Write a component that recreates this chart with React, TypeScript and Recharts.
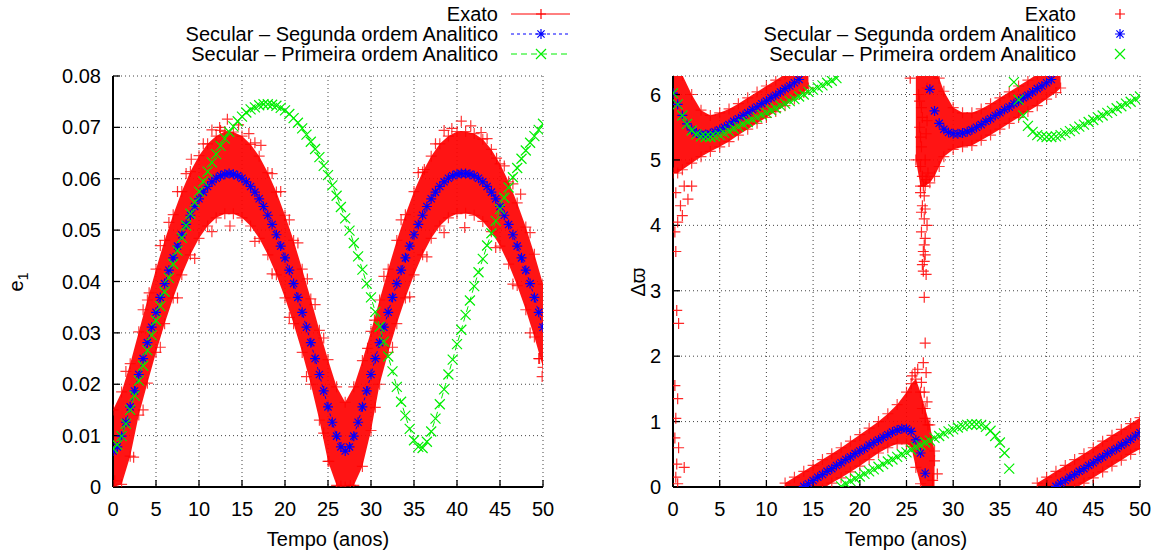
import React from 'react';
import { ComposedChart, XAxis, YAxis, CartesianGrid, Line, Area, Scatter } from 'recharts';

const FONT = '"Liberation Sans", Arial, Helvetica, sans-serif';

// ---------- shared categories / ticks ----------
const X_TICKS = [0, 5, 10, 15, 20, 25, 30, 35, 40, 45, 50];
const LEFT_Y_TICKS = [0, 0.01, 0.02, 0.03, 0.04, 0.05, 0.06, 0.07, 0.08];
const RIGHT_Y_TICKS = [0, 1, 2, 3, 4, 5, 6];

const T_HALF = [0,0.5,1,1.5,2,2.5,3,3.5,4,4.5,5,5.5,6,6.5,7,7.5,8,8.5,9,9.5,10,10.5,11,11.5,12,12.5,13,13.5,14,14.5,15,15.5,16,16.5,17,17.5,18,18.5,19,19.5,20,20.5,21,21.5,22,22.5,23,23.5,24,24.5,25,25.5,26,26.5,27,27.5,28,28.5,29,29.5,30,30.5,31,31.5,32,32.5,33,33.5,34,34.5,35,35.5,36,36.5,37,37.5,38,38.5,39,39.5,40,40.5,41,41.5,42,42.5,43,43.5,44,44.5,45,45.5,46,46.5,47,47.5,48,48.5,49,49.5,50];
const T_INT = [0,1,2,3,4,5,6,7,8,9,10,11,12,13,14,15,16,17,18,19,20,21,22,23,24,25,26,27,28,29,30,31,32,33,34,35,36,37,38,39,40,41,42,43,44,45,46,47,48,49,50];

// ---------- left panel: e1 ----------
const LEFT_SEGUNDA = [
  .0070,.0078,.0099,.0126,.0156,.0187,.0219,.0250,.0281,.0311,.0340,.0369,.0396,.0422,.0446,.0469,.0491,.0511,.0529,.0546,.0561,.0574,.0585,.0594,.0601,.0606,.0609,.0610,
  .0609,.0606,.0601,.0594,.0585,.0574,.0561,.0546,.0529,.0511,.0491,.0469,.0446,.0422,.0396,.0369,.0340,.0311,.0281,.0250,.0219,.0187,.0156,.0126,.0099,.0078,.0070,
  .0078,.0099,.0126,.0156,.0187,.0219,.0250,.0281,.0311,.0340,.0369,.0396,.0422,.0446,.0469,.0491,.0511,.0529,.0546,.0561,.0574,.0585,.0594,.0601,.0606,.0609,.0610,
  .0610,.0609,.0606,.0601,.0594,.0585,.0574,.0561,.0546,.0529,.0511,.0491,.0469,.0446,.0422,.0396,.0369,.0340,.0311
];
const LEFT_PRIMEIRA = [
  .0075,.0082,.0099,.0123,.0150,.0178,.0207,.0236,.0266,.0295,
  .0324,.0352,.0380,.0407,.0434,.0460,.0485,.0509,.0532,.0554,
  .0575,.0595,.0614,.0632,.0648,.0664,.0678,.0691,.0702,.0712,
  .0721,.0729,.0735,.0739,.0743,.0745,.0745,.0744,.0742,.0738,
  .0733,.0726,.0718,.0709,.0698,.0686,.0672,.0658,.0642,.0625,
  .0607,.0587,.0567,.0545,.0523,.0499,.0475,.0449,.0423,.0396,
  .0369,.0341,.0312,.0283,.0254,.0225,.0195,.0166,.0139,.0113,
  .0091,.0078,.0076,.0088,.0108,.0133,.0161,.0190,.0219,.0248,
  .0278,.0306,.0335,.0363,.0391,.0418,.0444,.0470,.0494,.0518,
  .0541,.0563,.0583,.0603,.0621,.0639,.0655,.0670,.0683,.0695,
  .0707
];
const LEFT_EXATO_HI = [
  .0150,.0185,.0240,.0302,.0364,.0424,.0480,.0530,.0575,.0614,
  .0645,.0668,.0683,.0692,.0691,.0683,.0667,.0644,.0612,.0574,
  .0529,.0480,.0424,.0366,.0305,.0248,.0195,.0165,.0195,.0246,
  .0303,.0364,.0424,.0480,.0530,.0575,.0613,.0644,.0668,.0683,
  .0692,.0692,.0688,.0677,.0657,.0629,.0594,.0553,.0506,.0453,.0395
];
const LEFT_EXATO_LO = [
  .0000,.0005,.0060,.0140,.0202,.0262,.0318,.0368,.0413,.0452,
  .0484,.0508,.0524,.0532,.0532,.0524,.0508,.0484,.0452,.0413,
  .0368,.0318,.0262,.0200,.0130,.0050,.0003,.0000,.0003,.0040,
  .0110,.0200,.0262,.0318,.0368,.0413,.0452,.0484,.0508,.0524,
  .0532,.0533,.0529,.0517,.0497,.0469,.0434,.0392,.0345,.0292,.0233
];
const LEFT_EXATO_OUT_T = [13.3,14.6,12.4,40.5,41.6,39.4,13.6,40.9,26.5,27.6,0.2,49.9,49.6,2.4,25.1,29.6,30.4,36.2,9.1,17.2,4.2,22.6,44.6,47.4,11.5,15.8,38.5,42.8,
  1.5,3.5,5.5,6.5,7.5,8.5,10.5,12.5,16.5,18.5,19.5,20.5,21.5,23.5,24.5,31.5,33.5,35.5,37.5,43.5,45.5,46.5,48.5,
  3.5,5.5,7.5,9.5,11.5,16.5,18.5,20.5,22.5,24.5,30.5,32.5,34.5,36.5,38.5,44.5,46.5,48.5,49.5];
const LEFT_EXATO_OUT_V = [.0716,.0705,.0700,.0712,.0703,.0698,.0508,.0505,.0002,.0003,.0012,.0215,.0250,.0058,.0050,.0270,.0325,.0618,.0638,.0665,.0378,.0405,.0640,.0570,.0695,.0688,.0694,.0690,
  .0225,.0345,.0470,.0515,.0575,.0610,.0668,.0694,.0670,.0610,.0575,.0520,.0475,.0355,.0290,.0410,.0520,.0612,.0668,.0678,.0625,.0590,.0495,
  .0150,.0272,.0368,.0445,.0497,.0478,.0415,.0330,.0215,.0105,.0155,.0272,.0370,.0448,.0495,.0466,.0395,.0300,.0250];

// ---------- right panel: delta varpi ----------
const RIGHT_SEGUNDA = [
  6.02,5.85,5.68,5.55,5.46,5.41,5.39,5.39,5.40,5.43,
  5.46,5.50,5.54,5.59,5.63,5.68,5.72,5.77,5.81,5.86,
  5.90,5.95,5.99,6.04,6.09,6.13,6.18,6.23,0.01,0.05,
  0.10,0.15,0.19,0.24,0.28,0.33,0.37,0.42,0.46,0.51,
  0.55,0.59,0.64,0.68,0.72,0.76,0.80,0.84,0.87,0.89,
  0.89,0.85,0.72,0.52,0.21,6.08,5.75,5.56,5.47,5.42,
  5.40,5.40,5.41,5.43,5.46,5.50,5.54,5.59,5.63,5.68,
  5.72,5.77,5.81,5.86,5.90,5.95,5.99,6.04,6.09,6.13,
  6.18,6.23,0.01,0.06,0.10,0.15,0.19,0.24,0.28,0.33,
  0.37,0.42,0.46,0.51,0.55,0.59,0.64,0.68,0.73,0.78,
  0.83
];
const RIGHT_PRIMEIRA = [
  6.02,5.85,5.68,5.55,5.45,5.39,5.36,5.35,5.35,5.36,
  5.38,5.41,5.44,5.48,5.51,5.55,5.58,5.62,5.65,5.69,
  5.72,5.76,5.79,5.83,5.86,5.90,5.93,5.97,6.00,6.04,
  6.07,6.11,6.14,6.18,6.21,6.25,0.01,0.05,0.09,0.13,
  0.16,0.20,0.24,0.27,0.31,0.35,0.39,0.42,0.46,0.50,
  0.53,0.57,0.61,0.64,0.68,0.71,0.75,0.78,0.82,0.85,
  0.88,0.91,0.93,0.95,0.96,0.96,0.95,0.92,0.86,0.78,
  0.68,0.52,0.28,6.19,5.92,5.68,5.52,5.43,5.38,5.36,
  5.35,5.35,5.36,5.38,5.41,5.44,5.47,5.51,5.54,5.58,
  5.61,5.65,5.68,5.72,5.75,5.79,5.82,5.86,5.89,5.93,
  5.97
];
// Exato band, four wrapped pieces
const SEG_A_T = [0,0.5,1,2,3,4,5,6,7,8,9,10,11,12,13,14,14.5];
const SEG_A_HI = [6.45,6.40,6.30,6.00,5.76,5.68,5.72,5.78,5.86,5.95,6.04,6.13,6.22,6.31,6.40,6.50,6.55];
const SEG_A_LO = [4.80,4.80,4.85,4.95,5.05,5.13,5.20,5.28,5.38,5.47,5.56,5.65,5.74,5.83,5.93,6.03,6.10];
const SEG_B_T = [12,13,14,15,16,17,18,19,20,21,22,23,24,25,25.5,26,26.5,27,27.5,28];
const SEG_B_HI = [0.06,0.15,0.24,0.33,0.42,0.51,0.60,0.70,0.80,0.90,1.00,1.12,1.26,1.45,1.58,1.65,1.45,1.20,0.95,0.55];
const SEG_B_LO = [-0.4,-0.3,-0.2,-0.12,-0.03,0.06,0.14,0.23,0.32,0.42,0.52,0.60,0.66,0.66,0.62,0.30,0.05,-0.1,-0.1,-0.1];
const SEG_C_T = [26,26.5,27,27.5,28,28.5,29,30,31,32,33,34,35,36,37,38,39,40,41,41.5];
const SEG_C_HI = [6.6,6.6,6.6,6.55,6.45,6.25,6.05,5.80,5.72,5.72,5.78,5.86,5.95,6.04,6.13,6.22,6.31,6.40,6.50,6.55];
const SEG_C_LO = [5.0,4.6,4.6,4.65,4.75,4.9,5.05,5.16,5.20,5.22,5.30,5.38,5.47,5.56,5.65,5.74,5.83,5.93,6.03,6.10];
const SEG_D_T = [39,40,41,42,43,44,45,46,47,48,49,50];
const SEG_D_HI = [0.06,0.15,0.24,0.33,0.42,0.51,0.60,0.70,0.79,0.88,0.97,1.06];
const SEG_D_LO = [-0.4,-0.3,-0.2,-0.12,-0.03,0.06,0.14,0.23,0.32,0.41,0.50,0.58];
const RIGHT_EXATO_OUT_T = [0.3,0.8,1.2,0.5,1.0,0.2,0.3,0.4,0.6,0.2,0.5,0.3,0.2,0.6,0.4,1.2,0.3,0.5,2.0,1.6,
  26.3,26.4,26.6,26.5,26.8,26.7,26.9,26.6,27.0,26.8,26.7,27.1,26.9,27.0,26.8,27.1,26.6,26.9,27.2,26.7,
  27.0,27.3,27.6,28.0,28.3,27.8,25.9,25.6,26.2,25.4,26.6,27.2,27.0,26.5,27.2,26.9,27.3,26.5,
  26.9,27.1,26.6,27.0,26.8,27.1,26.7,27.2,26.4,26.7,27.0,26.9];
const RIGHT_EXATO_OUT_V = [4.5,4.3,4.6,4.05,4.15,3.9,3.6,2.7,2.5,1.55,1.35,1.05,0.75,0.6,0.35,0.3,0.15,0.05,4.6,4.4,
  6.0,5.5,5.2,4.9,4.6,4.3,4.1,3.9,3.8,3.6,3.4,3.25,2.9,2.2,1.9,1.75,1.6,1.45,1.3,1.2,
  1.05,0.95,0.75,0.4,0.2,0.1,1.75,1.7,1.8,6.25,5.8,5.6,5.0,4.5,4.0,3.7,4.8,5.35,
  4.45,4.7,4.2,3.55,3.3,5.4,5.65,6.1,5.9,4.75,4.25,3.45];

// ---------- tables ----------
const pts = (ts: number[], vs: number[]) => ts.map((t, i) => ({ t, v: vs[i] }));
const band = (ts: number[], lo: number[], hi: number[]) => ts.map((t, i) => ({ t, r: [lo[i], hi[i]] }));

const RED = '#ff0000';
const BLUE = '#0000ff';
const GREEN = '#00ee00';

function plusPath(cx: number, cy: number, s: number) {
  return `M${cx - s},${cy}H${cx + s}M${cx},${cy - s}V${cy + s}`;
}
function xPath(cx: number, cy: number, s: number) {
  return `M${cx - s},${cy - s}L${cx + s},${cy + s}M${cx - s},${cy + s}L${cx + s},${cy - s}`;
}
function starPath(cx: number, cy: number, s: number) {
  return plusPath(cx, cy, s) + xPath(cx, cy, s * 0.72);
}
const pathFor = (kind: string, cx: number, cy: number, s: number) =>
  kind === 'plus' ? plusPath(cx, cy, s) : kind === 'x' ? xPath(cx, cy, s) : starPath(cx, cy, s);

const makeShape = (kind: string, color: string, s: number, op = 1) => (p: any) => {
  const { cx, cy } = p;
  if (cx == null || cy == null || isNaN(cx) || isNaN(cy)) return <g />;
  return <path d={pathFor(kind, cx, cy, s)} stroke={color} strokeOpacity={op} strokeWidth={1.2} fill="none" />;
};
const makeDot = (kind: string, color: string, s: number) => (p: any) => {
  const { cx, cy, index } = p;
  if (cx == null || cy == null || isNaN(cx) || isNaN(cy)) return <g key={'d' + index} />;
  return <path key={'d' + index} d={pathFor(kind, cx, cy, s)} stroke={color} strokeWidth={1.2} fill="none" />;
};

const tickStyle = { fontSize: 20, fill: '#000', fontFamily: FONT };
const axisLine = { stroke: '#000', strokeWidth: 2 };
const tickLine = { stroke: '#000', strokeWidth: 1.3 };
const noTick = () => <g />;

function LeftChart() {
  return (
    <ComposedChart width={580} height={556} margin={{ top: 76, right: 37, bottom: 39, left: 53 }}>
      <CartesianGrid stroke="#444" strokeDasharray="1 3" strokeWidth={1} />
      <XAxis dataKey="t" type="number" domain={[0, 50]} ticks={X_TICKS} interval={0} allowDataOverflow
        height={30} tickSize={-7} tickMargin={22} tick={tickStyle} axisLine={axisLine} tickLine={tickLine} />
      <XAxis xAxisId="top" orientation="top" dataKey="t" type="number" domain={[0, 50]} ticks={X_TICKS} interval={0}
        allowDataOverflow height={0} tickSize={-7} tick={noTick} axisLine={axisLine} tickLine={tickLine} />
      <YAxis type="number" domain={[0, 0.08]} ticks={LEFT_Y_TICKS} interval={0} allowDataOverflow width={60}
        tickSize={-7} tickMargin={19} tick={tickStyle} axisLine={axisLine} tickLine={tickLine}
        tickFormatter={(v: number) => (v === 0 ? '0' : v.toFixed(2))} />
      <YAxis yAxisId="right" orientation="right" type="number" domain={[0, 0.08]} ticks={LEFT_Y_TICKS} interval={0}
        allowDataOverflow width={0} tickSize={-7} tick={noTick} axisLine={axisLine} tickLine={tickLine} />
      <Area data={band(T_INT, LEFT_EXATO_LO, LEFT_EXATO_HI)} dataKey="r" type="linear" stroke="none"
        fill={RED} fillOpacity={0.92} dot={false} activeDot={false} isAnimationActive={false} />
      <Scatter data={pts(T_INT, LEFT_EXATO_HI)} dataKey="v" shape={makeShape('plus', RED, 5.5, 0.75)} isAnimationActive={false} />
      <Scatter data={pts(T_INT, LEFT_EXATO_LO)} dataKey="v" shape={makeShape('plus', RED, 5.5, 0.75)} isAnimationActive={false} />
      <Scatter data={pts(LEFT_EXATO_OUT_T, LEFT_EXATO_OUT_V)} dataKey="v" shape={makeShape('plus', RED, 5.5, 0.8)} isAnimationActive={false} />
      <Line data={pts(T_HALF, LEFT_SEGUNDA)} dataKey="v" type="linear" stroke={BLUE} strokeWidth={1}
        strokeDasharray="3 3" dot={makeDot('star', BLUE, 5)} activeDot={false} isAnimationActive={false} />
      <Line data={pts(T_HALF, LEFT_PRIMEIRA)} dataKey="v" type="linear" stroke={GREEN} strokeWidth={1}
        strokeDasharray="6 4" dot={makeDot('x', GREEN, 5)} activeDot={false} isAnimationActive={false} />
    </ComposedChart>
  );
}

function RightChart() {
  const bandSeg = (t: number[], lo: number[], hi: number[], k: string) => [
    <Area key={k + 'a'} data={band(t, lo, hi)} dataKey="r" type="linear" stroke="none" fill={RED}
      fillOpacity={0.92} dot={false} activeDot={false} isAnimationActive={false} />,
    <Scatter key={k + 'h'} data={pts(t, hi)} dataKey="v" shape={makeShape('plus', RED, 5.5, 0.75)} isAnimationActive={false} />,
    <Scatter key={k + 'l'} data={pts(t, lo)} dataKey="v" shape={makeShape('plus', RED, 5.5, 0.75)} isAnimationActive={false} />,
  ];
  return (
    <ComposedChart width={580} height={556} margin={{ top: 76, right: 20, bottom: 39, left: 33 }}>
      <CartesianGrid stroke="#444" strokeDasharray="1 3" strokeWidth={1} />
      <XAxis dataKey="t" type="number" domain={[0, 50]} ticks={X_TICKS} interval={0} allowDataOverflow
        height={30} tickSize={-7} tickMargin={22} tick={tickStyle} axisLine={axisLine} tickLine={tickLine} />
      <XAxis xAxisId="top" orientation="top" dataKey="t" type="number" domain={[0, 50]} ticks={X_TICKS} interval={0}
        allowDataOverflow height={0} tickSize={-7} tick={noTick} axisLine={axisLine} tickLine={tickLine} />
      <YAxis type="number" domain={[0, 2 * Math.PI]} ticks={RIGHT_Y_TICKS} interval={0} allowDataOverflow width={60}
        tickSize={-7} tickMargin={19} tick={tickStyle} axisLine={axisLine} tickLine={tickLine} />
      <YAxis yAxisId="right" orientation="right" type="number" domain={[0, 2 * Math.PI]} ticks={RIGHT_Y_TICKS} interval={0}
        allowDataOverflow width={0} tickSize={-7} tick={noTick} axisLine={axisLine} tickLine={tickLine} />
      {bandSeg(SEG_A_T, SEG_A_LO, SEG_A_HI, 'A')}
      {bandSeg(SEG_B_T, SEG_B_LO, SEG_B_HI, 'B')}
      {bandSeg(SEG_C_T, SEG_C_LO, SEG_C_HI, 'C')}
      {bandSeg(SEG_D_T, SEG_D_LO, SEG_D_HI, 'D')}
      <Scatter data={pts(RIGHT_EXATO_OUT_T, RIGHT_EXATO_OUT_V)} dataKey="v" shape={makeShape('plus', RED, 5.5, 0.85)} isAnimationActive={false} />
      <Scatter data={pts(T_HALF, RIGHT_SEGUNDA)} dataKey="v" shape={makeShape('star', BLUE, 5)} isAnimationActive={false} />
      <Scatter data={pts(T_HALF, RIGHT_PRIMEIRA)} dataKey="v" shape={makeShape('x', GREEN, 5)} isAnimationActive={false} />
    </ComposedChart>
  );
}

const LEGEND = ['Exato', 'Secular – Segunda ordem Analitico', 'Secular – Primeira ordem Analitico'];
const LEGEND_STYLE = [
  { color: RED, kind: 'plus', dash: undefined },
  { color: BLUE, kind: 'star', dash: '3 3' },
  { color: GREEN, kind: 'x', dash: '6 4' },
];

function LegendBlock({ textRight, markerX, withLines }: any) {
  return (
    <>
      {LEGEND.map((txt, i) => {
        const cy = 14 + i * 20;
        const st = LEGEND_STYLE[i];
        return (
          <React.Fragment key={i}>
            <div style={{ position: 'absolute', left: textRight - 400, width: 400, top: cy - 10, height: 20,
              lineHeight: '20px', fontSize: 20, textAlign: 'right', whiteSpace: 'nowrap', color: '#000' }}>{txt}</div>
            <svg style={{ position: 'absolute', left: markerX - 30, top: cy - 10 }} width={60} height={20}>
              {withLines && <line x1={0} x2={59} y1={10} y2={10} stroke={st.color} strokeWidth={1} strokeDasharray={st.dash} />}
              <path d={pathFor(st.kind, 30, 10, 5)} stroke={st.color} strokeWidth={1.2} fill="none" />
            </svg>
          </React.Fragment>
        );
      })}
    </>
  );
}

const textBase: any = { position: 'absolute', fontSize: 20, lineHeight: '20px', whiteSpace: 'nowrap', color: '#000' };

export default function App() {
  return (
    <div style={{ position: 'absolute', left: 0, top: 0, width: 1160, height: 556, background: '#fff', fontFamily: FONT, overflow: 'hidden' }}>
      <div style={{ position: 'absolute', left: 0, top: 0 }}><LeftChart /></div>
      <div style={{ position: 'absolute', left: 580, top: 0 }}><RightChart /></div>
      <LegendBlock textRight={498} markerX={541} withLines={true} />
      <LegendBlock textRight={1076} markerX={1120} withLines={false} />
      <div style={{ ...textBase, left: 328, top: 539, transform: 'translate(-50%,-50%)' }}>Tempo (anos)</div>
      <div style={{ ...textBase, left: 906, top: 539, transform: 'translate(-50%,-50%)' }}>Tempo (anos)</div>
      <div style={{ ...textBase, left: 17, top: 282, transform: 'translate(-50%,-50%) rotate(-90deg)' }}>
        e<span style={{ fontSize: 14, position: 'relative', top: 5 }}>1</span>
      </div>
      <div style={{ ...textBase, left: 638, top: 282, transform: 'translate(-50%,-50%) rotate(-90deg)' }}>Δϖ</div>
    </div>
  );
}
